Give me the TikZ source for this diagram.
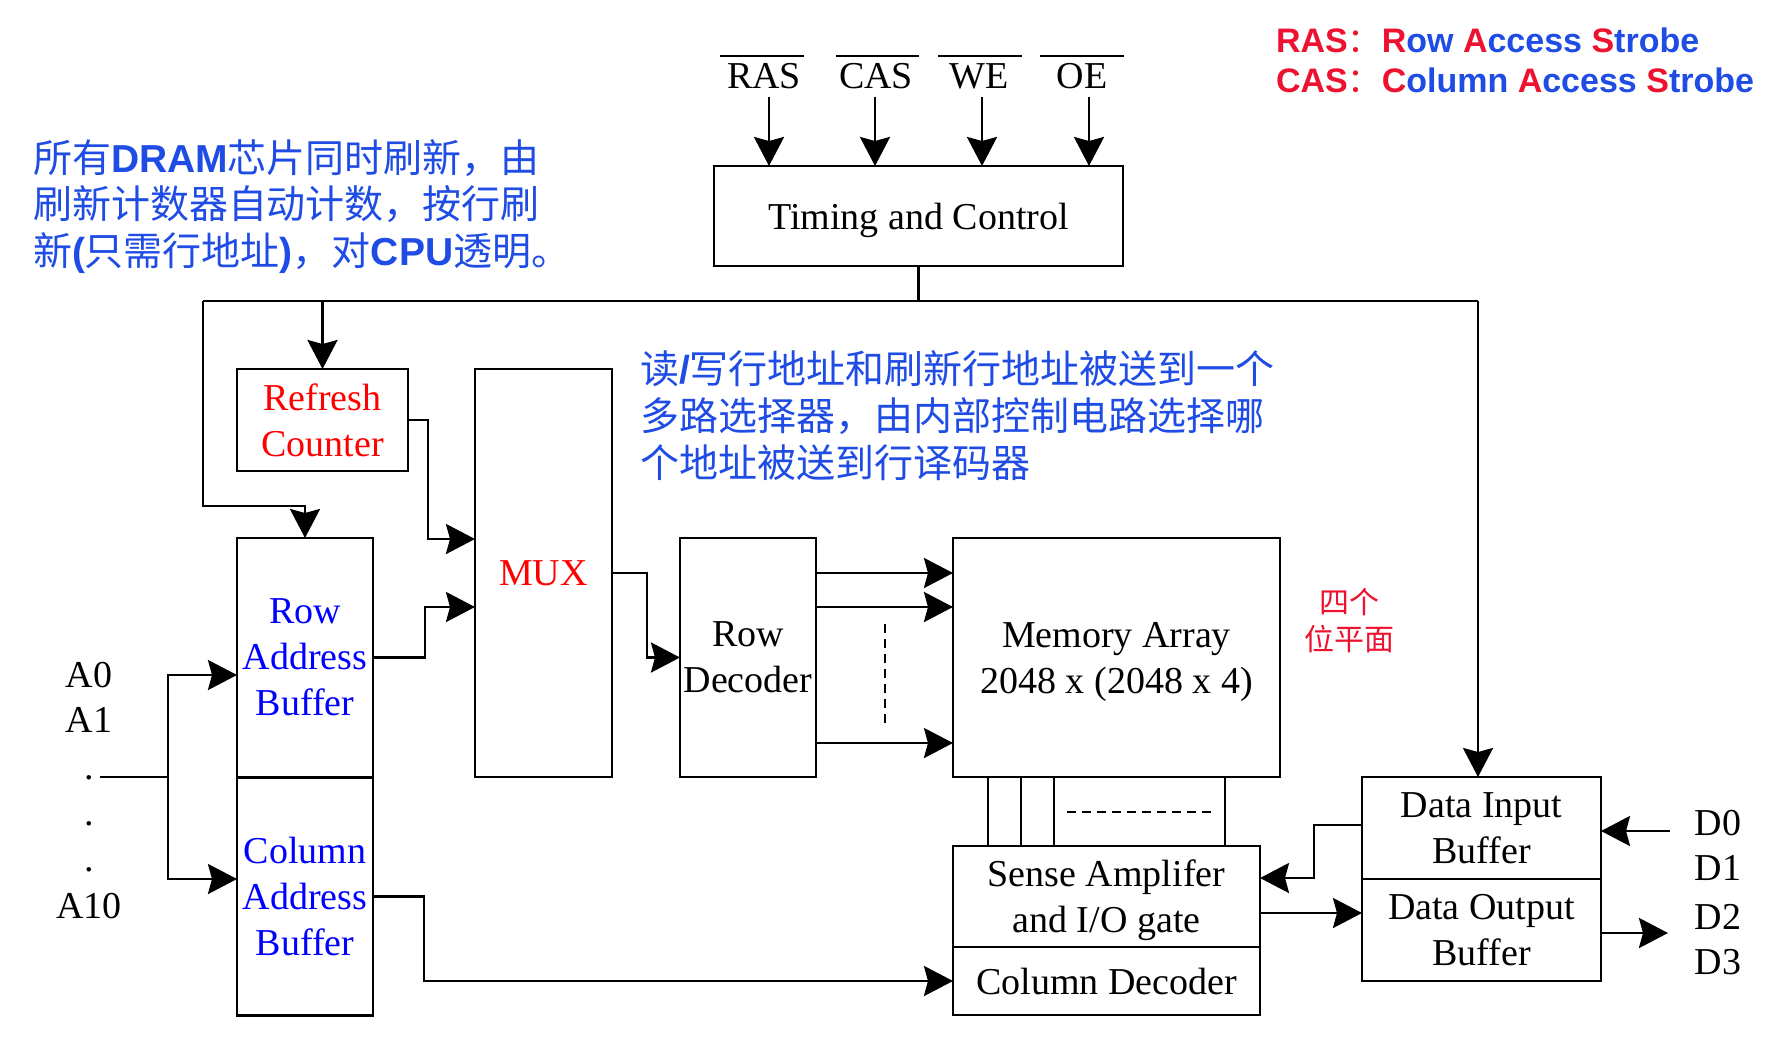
\documentclass[tikz,border=0pt]{standalone}
\usepackage{fontspec}
\setmainfont{Liberation Serif}
\newfontfamily\cjkf{Noto Sans CJK SC}
\newfontfamily\arialf{Liberation Sans}
\usetikzlibrary{arrows.meta}
\definecolor{cred}{RGB}{255,0,0}
\definecolor{cblue}{RGB}{0,0,255}
\definecolor{nblue}{RGB}{30,76,228}
\definecolor{nred}{RGB}{236,18,48}
\newcommand\lat[1]{{\arialf\bfseries #1}}
\newcommand\rc[1]{\textcolor{nred}{#1}}
\newcommand\bc[1]{\textcolor{nblue}{#1}}
\begin{document}
\begin{tikzpicture}[x=0.5pt,y=-0.5pt,
  every node/.style={inner sep=0pt, outer sep=0pt},
  blk/.style={draw, line width=1.4pt, align=center, text depth=0pt, font=\fontsize{19}{23}\selectfont},
  tx/.style={font=\fontsize{19}{23}\selectfont},
  arr/.style={line width=1.4pt, -{Stealth[length=14.5pt,width=15pt,inset=2pt]}},
  ln/.style={line width=1.4pt},
  dsh/.style={line width=1.4pt, dash pattern=on 4.5pt off 3pt},
  note/.style={font=\cjkf\fontsize{19.5}{23.5}\selectfont, text=nblue, anchor=base west},
  key/.style={font=\arialf\bfseries\fontsize{17}{20}\selectfont, anchor=base west},
  red4/.style={font=\cjkf\fontsize{15}{18}\selectfont, text=nred},
]
\useasboundingbox (0,0) rectangle (1768,1040);

% ---------- boxes ----------
\node[blk, minimum width=204.5pt, minimum height=50pt] (timing) at (918.5,216) {Timing and Control};
\node[blk, minimum width=85.5pt, minimum height=51pt, text=cred] (refresh) at (322.5,420) {Refresh\\Counter};
\node[blk, minimum width=68.5pt, minimum height=204pt, text=cred] (mux) at (543.5,573) {MUX};
\node[blk, minimum width=68pt, minimum height=119.5pt, text=cblue] (rab) at (305,657.5) {Row\\Address\\Buffer};
\node[blk, minimum width=68pt, minimum height=119pt, text=cblue] (cab) at (305,896.5) {Column\\Address\\Buffer};
\node[blk, minimum width=68pt, minimum height=119.5pt] (rowdec) at (748,657.5) {Row\\Decoder};
\node[blk, minimum width=163.5pt, minimum height=119.5pt] (mem) at (1116.5,657.5) {Memory Array\\2048 x (2048 x 4)};
\node[blk, minimum width=153.5pt, minimum height=50.5pt] (sa) at (1106.5,896.5) {Sense Amplifer\\and I/O gate};
\node[blk, minimum width=153.5pt, minimum height=34pt] (coldec) at (1106.5,981) {Column Decoder};
\node[blk, minimum width=119.5pt, minimum height=51pt] (dib) at (1481.5,828) {Data Input\\Buffer};
\node[blk, minimum width=119.5pt, minimum height=51pt] (dob) at (1481.5,930) {Data Output\\Buffer};

% ---------- control signals ----------
\node[tx] (lras) at (764,76) {RAS};
\node[tx] (lcas) at (876,76) {CAS};
\node[tx] (lwe) at (979,76) {WE};
\node[tx] (loe) at (1082,76) {OE};
\draw[ln] (720,56) -- (804,56);
\draw[ln] (836,56) -- (919,56);
\draw[ln] (938,56) -- (1022,56);
\draw[ln] (1040,56) -- (1124,56);
\coordinate (sras) at (769,97);
\coordinate (scas) at (875,97);
\coordinate (swe) at (982,97);
\coordinate (soe) at (1089,97);
\draw[arr] (sras) -- (sras |- timing.north);
\draw[arr] (scas) -- (scas |- timing.north);
\draw[arr] (swe) -- (swe |- timing.north);
\draw[arr] (soe) -- (soe |- timing.north);

% ---------- timing bus ----------
\coordinate (bl) at (203,301);
\coordinate (br) at (1478,301);
\coordinate (rbk) at (203,506);
\draw[ln] (timing.south) |- (bl);
\draw[ln] (timing.south) |- (br);
\draw[arr] (br) -- (br |- dib.north);
\draw[arr] (bl) -- (rbk) -| (rab.north);
\draw[arr] (refresh.north |- bl) -- (refresh.north);

% ---------- address path ----------
\coordinate (k1) at (428,539);
\draw[arr] (refresh.east) -| (k1) -- (k1 -| mux.west);
\coordinate (k2) at (425,607);
\draw[arr] (rab.east) -| (k2) -- (k2 -| mux.west);
\coordinate (k3) at (647,657.5);
\draw[arr] (mux.east) -| (k3) -- (rowdec.west);
\coordinate (h1) at (0,573);
\coordinate (h2) at (0,607);
\coordinate (h3) at (0,743);
\draw[arr] (rowdec.east |- h1) -- (mem.west |- h1);
\draw[arr] (rowdec.east |- h2) -- (mem.west |- h2);
\draw[arr] (rowdec.east |- h3) -- (mem.west |- h3);
\draw[dsh] (885,624) -- (885,727);

% memory to sense amp
\coordinate (v1) at (988,0);
\coordinate (v2) at (1021,0);
\coordinate (v3) at (1054,0);
\coordinate (v4) at (1225,0);
\draw[ln] (mem.south -| v1) -- (sa.north -| v1);
\draw[ln] (mem.south -| v2) -- (sa.north -| v2);
\draw[ln] (mem.south -| v3) -- (sa.north -| v3);
\draw[ln] (mem.south -| v4) -- (sa.north -| v4);
\draw[dsh] (1067,812) -- (1212,812);

% data path
\coordinate (k4) at (1314,878);
\coordinate (h4) at (0,825);
\draw[arr] (dib.west |- h4) -| (k4) -- (k4 -| sa.east);
\coordinate (h5) at (0,913);
\draw[arr] (sa.east |- h5) -- (dob.west |- h5);
\coordinate (din) at (1670,831);
\draw[arr] (din) -- (din -| dib.east);
\coordinate (dout) at (1668,933);
\draw[arr] (dob.east |- dout) -- (dout);
\coordinate (k5) at (424,981);
\draw[arr] (cab.east) -| (k5) -- (coldec.west);

% address input
\coordinate (ain) at (100,777);
\coordinate (jt) at (168,675);
\coordinate (jb) at (168,879);
\draw[ln] (ain) -- (ain -| jt);
\draw[arr] (ain -| jt) -- (jt) -- (jt -| rab.west);
\draw[arr] (ain -| jt) -- (jb) -- (jb -| cab.west);

% labels
\node[tx] (a0) at (89,675) {A0};
\node[tx] (a1) at (89,720) {A1};
\node[tx] (dot1) at (89,778) {.};
\node[tx] (dot2) at (89,824) {.};
\node[tx] (dot3) at (89,870) {.};
\node[tx] (a10) at (89,906) {A10};
\node[tx] (d0) at (1718,823) {D0};
\node[tx] (d1) at (1718,868) {D1};
\node[tx] (d2) at (1718,917) {D2};
\node[tx] (d3) at (1718,962) {D3};

% annotations
\node[note] (n1) at (33,172) {所有\lat{DRAM}芯片同时刷新，由};
\node[note] (n2) at (33,218) {刷新计数器自动计数，按行刷};
\node[note] (n3) at (33,265) {新\lat{(}只需行地址\lat{)}，对\lat{CPU}透明。};
\node[note] (m1) at (640,383) {读\lat{/}写行地址和刷新行地址被送到一个};
\node[note] (m2) at (640,430) {多路选择器，由内部控制电路选择哪};
\node[note] (m3) at (640,477) {个地址被送到行译码器};
\node[key] (kr) at (1276,52) {\rc{RAS}\rc{\cjkf\mdseries ：}\rc{R}\bc{ow }\rc{A}\bc{ccess }\rc{S}\bc{trobe}};
\node[key] (kc) at (1276,92) {\rc{CAS}\rc{\cjkf\mdseries ：}\rc{C}\bc{olumn }\rc{A}\bc{ccess }\rc{S}\bc{trobe}};
\node[red4] (p1) at (1349,602) {四个};
\node[red4] (p2) at (1349,639) {位平面};
\end{tikzpicture}
\end{document}
